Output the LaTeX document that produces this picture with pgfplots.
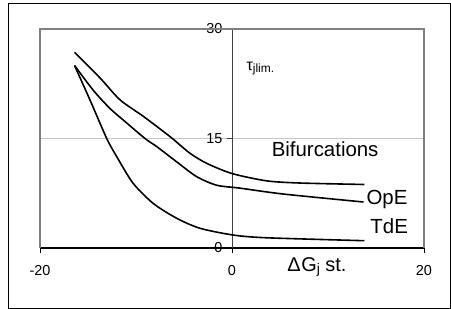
\documentclass[border=0pt]{standalone}
\usepackage{pgfplots}
\pgfplotsset{compat=1.18}
\usepackage{fontspec}
\setmainfont{Liberation Sans}
\begin{document}
\begin{tikzpicture}
\path (-40bp,-61bp) rectangle (411bp,248bp);
\draw[black, line width=0.8bp] (-32bp,-60bp) rectangle (410bp,245bp);
\begin{axis}[
 at={(0,0)}, anchor=south west,
 scale only axis, width=384bp, height=219bp,
 xmin=-20, xmax=20, ymin=0, ymax=30,
 axis lines=middle,
 xtick={-20,0,20}, ytick={0,15,30},
 hide obscured x ticks=false, hide obscured y ticks=false,
 tick align=outside, major tick length=5bp,
 ymajorgrids, grid style={black!22, line width=0.6bp},
 x axis line style={black, line width=1.2bp, -},
 y axis line style={black!75, line width=0.8bp, -},
 xtick style={black, line width=0.8bp},
 ytick style={black!75, line width=0.8bp},
 tick label style={font=\fontsize{14.5}{14.5}\selectfont},
 /pgf/number format/assume math mode=true,
 xticklabel style={yshift=-9bp},
 yticklabel style={xshift=-1bp},
 clip=false,
]
\draw[black!50, line width=1.6bp] (rel axis cs:0,0) -- (rel axis cs:0,1) -- (rel axis cs:1,1) -- (rel axis cs:1,0);
% Bifurcations (top)
\addplot[black, line width=1.6bp, smooth, tension=0.45] coordinates {
 (-16.4,26.8) (-13.75,23.3) (-11.67,20.3) (-9.2,18.0) (-6.4,15.2) (-4.4,13.0) (-2.64,11.6) (0,10.2) (3.6,9.2) (7.1,8.9) (13.8,8.7)
};
% OpE (middle)
\addplot[black, line width=1.6bp, smooth, tension=0.45] coordinates {
 (-16.4,25.0) (-14.45,21.6) (-12.7,19.1) (-11.3,17.5) (-9.06,15.0) (-7.85,13.9) (-5.76,11.8) (-3.68,9.77) (-1.6,8.6) (0.83,8.2) (5.3,7.4) (13.7,6.3)
};
% TdE (bottom)
\addplot[black, line width=1.6bp, smooth, tension=0.45] coordinates {
 (-16.4,25.0) (-14.8,20.3) (-13.05,15.0) (-12.0,12.5) (-10.3,8.86) (-8.2,6.1) (-5.76,4.07) (-3.33,2.7) (0.1,1.78) (3.6,1.4) (13.8,1.0)
};
\node[anchor=west, inner sep=0pt] at (axis cs:1.5,24.6) {\fontsize{16}{16}\selectfont τ\raisebox{-2bp}{\fontsize{12}{12}\selectfont jlim.}};
\node[inner sep=0pt] at (axis cs:9.7,13.6) {\fontsize{20.5}{20.5}\selectfont Bifurcations};
\node[anchor=west, inner sep=0pt] at (axis cs:14.0,6.6) {\fontsize{20.5}{20.5}\selectfont OpE};
\node[anchor=west, inner sep=0pt] at (axis cs:14.4,3.0) {\fontsize{20.5}{20.5}\selectfont TdE};
\node[anchor=west, inner sep=0pt] at (axis cs:5.76,-2.6) {\fontsize{20}{20}\selectfont Δ\kern0.5pt G\raisebox{-2bp}{\fontsize{14}{14}\selectfont j} st.};
\end{axis}
\end{tikzpicture}
\end{document}
